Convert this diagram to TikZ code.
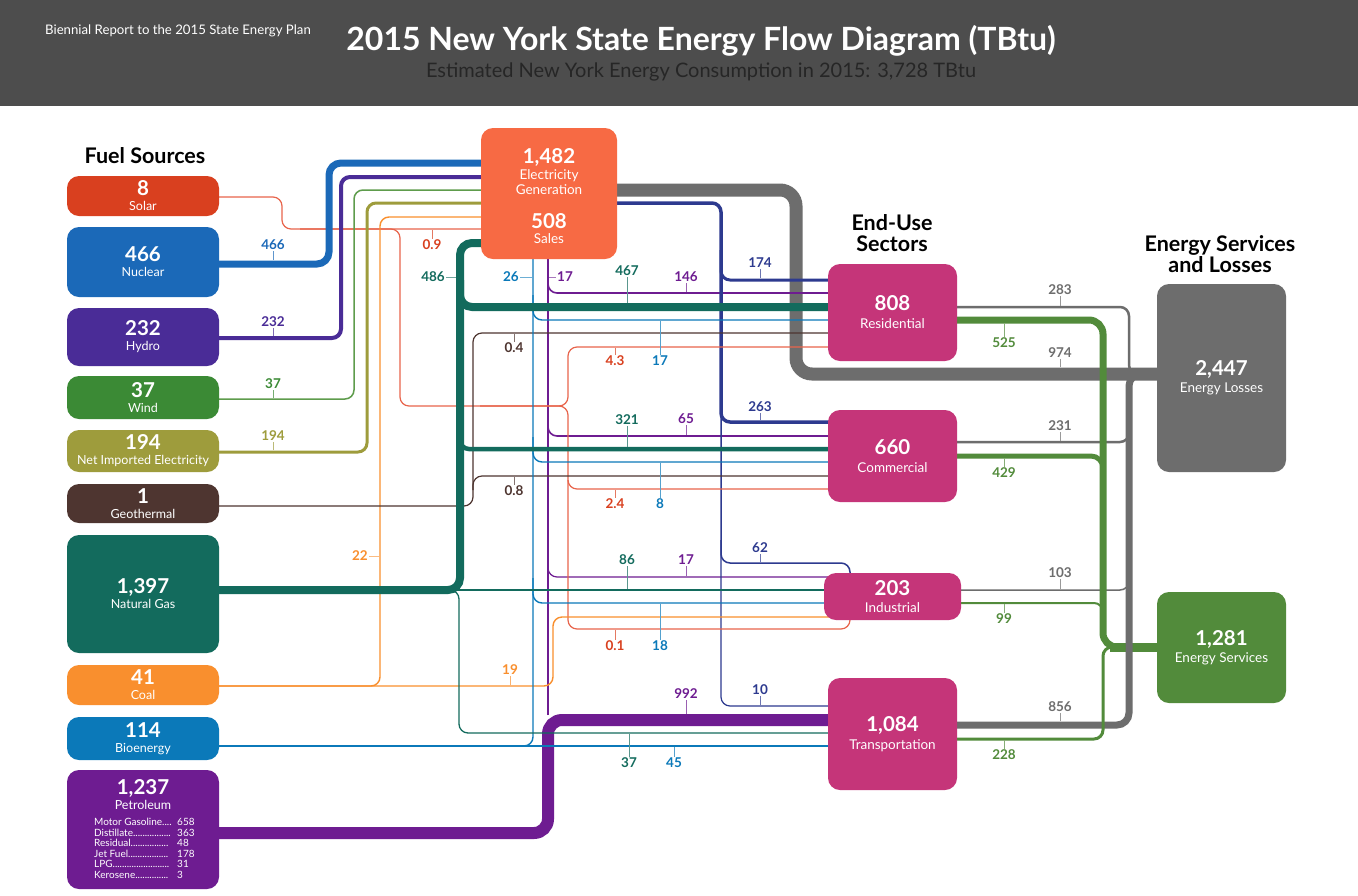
\documentclass[tikz,border=0pt]{standalone}
\usepackage{fontspec}
\setmainfont{Lato}
\usetikzlibrary{positioning,calc}

\definecolor{hdr}{HTML}{4D4D4D}
\definecolor{subt}{HTML}{262626}
\definecolor{csol}{HTML}{D9401F}
\definecolor{csolln}{HTML}{E8654C}
\definecolor{cnuc}{HTML}{1B69B8}
\definecolor{chyd}{HTML}{4A2C97}
\definecolor{cwnd}{HTML}{3B8A35}
\definecolor{cwndln}{HTML}{5E9C4C}
\definecolor{cimp}{HTML}{9E9C3C}
\definecolor{cgeo}{HTML}{4E3530}
\definecolor{cgas}{HTML}{136B5D}
\definecolor{ccoa}{HTML}{F98F2E}
\definecolor{cbio}{HTML}{0B79B9}
\definecolor{cpet}{HTML}{6E1C91}
\definecolor{celc}{HTML}{F76A44}
\definecolor{csal}{HTML}{2D3A8F}
\definecolor{csec}{HTML}{C53579}
\definecolor{clos}{HTML}{6D6D6D}
\definecolor{csrv}{HTML}{528B3B}

\newcommand\valfont{\fontsize{20.5}{21}\selectfont\bfseries}
\newcommand\labfont{\fontsize{12.5}{15}\selectfont}
\newcommand\seclab{\fontsize{13.5}{15}\selectfont}
\newcommand\numfont{\fontsize{13.5}{14}\selectfont\bfseries}

\begin{document}
\begin{tikzpicture}[x=1pt,y=-1pt,
  fbox/.style={rectangle,rounded corners=12pt,minimum width=152pt,text=white,align=center,inner sep=0pt,font=\labfont},
  sbox/.style={fbox,minimum width=129pt,font=\seclab},
  txt/.style={text=white,inner sep=0pt,font=\seclab,align=center},
  head/.style={font=\fontsize{21.5}{21}\selectfont\bfseries,align=center,inner sep=0pt},
  flow/.style={rounded corners=9pt},
  num/.style={font=\numfont,inner sep=1pt},
  ptab/.style={text=white,inner sep=0pt,font=\fontsize{10}{10}\selectfont,anchor=west}]
\useasboundingbox (0,0) rectangle (1358,895);
\fill[white] (0,0) rectangle (1358,895);
% header
\fill[hdr] (0,0) rectangle (1358,106);
\node[text=white,font=\fontsize{13.2}{14}\selectfont] (rep) at (178,31) {Biennial Report to the 2015 State Energy Plan};
\node[text=white,font=\fontsize{32}{34}\selectfont\bfseries] (ttl) at (701,41) {2015 New York State Energy Flow Diagram (TBtu)};
\node[text=subt,font=\fontsize{20}{22}\selectfont] (sbt) at (701,72) {Estimated New York Energy Consumption in 2015: 3,728 TBtu};
\node[head] (hfuel) at (145,156) {Fuel Sources};
\node[head] (hsec) at (892,233) {End-Use\\Sectors};
\node[head] (hout) at (1220,254) {Energy Services\\and Losses};

% boxes (placed first so the flows can refer to them, filled again on top)
\node[fbox,minimum height=40pt] (sol) at (143,196) {};
\node[fbox,minimum height=70pt] (nuc) at (143,262) {};
\node[fbox,minimum height=58pt] (hyd) at (143,337) {};
\node[fbox,minimum height=43pt] (wnd) at (143,397.5) {};
\node[fbox,minimum height=42pt] (imp) at (143,451) {};
\node[fbox,minimum height=39pt] (geo) at (143,503.5) {};
\node[fbox,minimum height=118pt] (gas) at (143,594) {};
\node[fbox,minimum height=40pt] (coa) at (143,685) {};
\node[fbox,minimum height=43pt] (bio) at (143,738.5) {};
\node[fbox,minimum height=119pt] (pet) at (143,829.5) {};
\node[fbox,minimum width=136pt,minimum height=131pt] (elc) at (549,193.5) {};
\node[sbox,minimum height=97pt] (res) at (892.5,312.5) {};
\node[sbox,minimum height=92pt] (com) at (892.5,456) {};
\node[sbox,minimum width=137pt,minimum height=47pt] (ind) at (892.5,596.5) {};
\node[sbox,minimum height=112pt] (tra) at (892.5,734) {};
\node[sbox,minimum height=188pt] (los) at (1221.5,378) {};
\node[sbox,minimum height=111pt] (srv) at (1221.5,647.5) {};

% losses and services
\draw[csrv,line width=9pt] (1110,647) -- (srv.center |- 0,647);
\draw[flow,clos,line width=13pt,rounded corners=16pt] (elc.center |- 0,190) -- (796,190) -- (796,374) -- (los.center |- 0,374);
\draw[flow,clos,line width=2.5pt] (res.center |- 0,307) -- (1129,307) -- (1129,374) -- (los.center |- 0,374);
\draw[flow,clos,line width=2.5pt] (com.center |- 0,442) -- (1129,442) -- (1129,374) -- (los.center |- 0,374);
\draw[flow,clos,line width=1.5pt] (ind.center |- 0,590) -- (1129,590) -- (1129,374) -- (los.center |- 0,374);
\draw[flow,clos,line width=7pt,rounded corners=12pt] (tra.center |- 0,725) -- (1129,725) -- (1129,374) -- (los.center |- 0,374);
\draw[flow,csrv,line width=7pt,rounded corners=14pt] (res.center |- 0,320) -- (1103,320) -- (1103,647) -- (1125,647);
\draw[flow,csrv,line width=5pt,rounded corners=12pt] (com.center |- 0,456) -- (1103,456) -- (1103,600);
\draw[flow,csrv,line width=2pt] (ind.center |- 0,603) -- (1103,603) -- (1103,630);
\draw[flow,csrv,line width=3pt] (tra.center |- 0,739) -- (1103,739) -- (1103,647) -- (1125,647);

% petroleum
\draw[flow,cpet,line width=12pt,rounded corners=14pt] (pet.center |- 0,833) -- (548,833) -- (548,720) -- (tra.center |- 0,720);
\draw[cpet,line width=1.6pt] (548,715) -- (elc.center -| 548,0);
\draw[flow,cpet,line width=1.6pt] (548,270) -- (548,293) -- (res.center |- 0,293);
\draw[flow,cpet,line width=1.6pt] (548,410) -- (548,436) -- (com.center |- 0,436);
\draw[flow,cpet,line width=1.2pt] (548,550) -- (548,577) -- (ind.center |- 0,577);

% electricity sales
\draw[flow,csal,line width=3.5pt] (elc.center |- 0,203) -- (721,203) -- (721,422) -- (com.center |- 0,422);
\draw[flow,csal,line width=3pt] (721,250) -- (721,280) -- (res.center |- 0,280);
\draw[flow,csal,line width=1.5pt] (721,400) -- (721,563) -- (850,563) -- (850,590);
\draw[flow,csal,line width=1.2pt] (721,540) -- (721,706) -- (tra.center |- 0,706);

% renewables and imports into generation
\draw[flow,csolln,line width=1.2pt] (sol.center |- 0,197) -- (282,197) -- (282,229) -- (elc.center |- 0,229);
\draw[flow,csolln,line width=1.2pt] (300,229) -- (400,229) -- (400,406) -- (568,406) -- (568,347) -- (res.center |- 0,347);
\draw[flow,csolln,line width=1.2pt] (480,406) -- (568,406) -- (568,489) -- (com.center |- 0,489);
\draw[flow,csolln,line width=1.2pt] (568,480) -- (568,629) -- (850,629) -- (850,605);
\draw[flow,cnuc,line width=7pt,rounded corners=12pt] (nuc.center |- 0,264) -- (329,264) -- (329,163) -- (elc.center |- 0,163);
\draw[flow,chyd,line width=4pt] (hyd.center |- 0,338) -- (341,338) -- (341,177) -- (elc.center |- 0,177);
\draw[flow,cwndln,line width=1.5pt] (wnd.center |- 0,399) -- (354,399) -- (354,190) -- (elc.center |- 0,190);
\draw[flow,cimp,line width=3pt] (imp.center |- 0,452) -- (367,452) -- (367,203) -- (elc.center |- 0,203);
\draw[flow,ccoa,line width=1.4pt] (coa.center |- 0,686) -- (380,686) -- (380,217) -- (elc.center |- 0,217);
\draw[flow,ccoa,line width=1.4pt] (coa.center |- 0,686) -- (553,686) -- (553,617) -- (ind.center |- 0,617);
\draw[flow,cgeo,line width=1.2pt] (geo.center |- 0,506) -- (473,506) -- (473,476) -- (com.center |- 0,476);
\draw[flow,cgeo,line width=1.2pt] (473,490) -- (473,333) -- (res.center |- 0,333);

% bioenergy
\draw[cbio,line width=1.5pt] (bio.center |- 0,746) -- (tra.center |- 0,746);
\draw[flow,cbio,line width=1.4pt] (500,746) -- (533,746) -- (elc.center -| 533,0);
\foreach \yy/\sec in {320/res,462/com,603/ind}
  \draw[flow,cbio,line width=1.4pt] (533,\yy-25) -- (533,\yy) -- (\sec.center |- 0,\yy);

% natural gas
\draw[cgas,line width=1.5pt] (gas.center |- 0,590) -- (ind.center |- 0,590);
\draw[flow,cgas,line width=1.3pt] (440,590) -- (459,590) -- (459,733) -- (tra.center |- 0,733);
\draw[flow,cgas,line width=8pt,rounded corners=12pt] (gas.center |- 0,590) -- (460,590) -- (460,243) -- (elc.center |- 0,243);
\draw[flow,cgas,line width=8pt,rounded corners=12pt] (460,280) -- (460,307) -- (res.center |- 0,307);
\draw[flow,cgas,line width=4.5pt] (460,420) -- (460,449) -- (com.center |- 0,449);

% boxes on top
\node[fbox,fill=csol,minimum height=40pt] at (sol) {{\valfont 8}\\Solar};
\node[fbox,fill=cnuc,minimum height=70pt] at (nuc) {{\valfont 466}\\Nuclear};
\node[fbox,fill=chyd,minimum height=58pt] at (hyd) {{\valfont 232}\\Hydro};
\node[fbox,fill=cwnd,minimum height=43pt] at (wnd) {{\valfont 37}\\Wind};
\node[fbox,fill=cimp,minimum height=42pt] at (imp) {{\valfont 194}\\Net Imported Electricity};
\node[fbox,fill=cgeo,minimum height=39pt] at (geo) {{\valfont 1}\\Geothermal};
\node[fbox,fill=cgas,minimum height=118pt] at (gas) {{\valfont 1,397}\\Natural Gas};
\node[fbox,fill=ccoa,minimum height=40pt] at (coa) {{\valfont 41}\\Coal};
\node[fbox,fill=cbio,minimum height=43pt] at (bio) {{\valfont 114}\\Bioenergy};
\node[fbox,fill=cpet,minimum height=119pt] at (pet) {};
\node[txt,font=\labfont] (petv) at (143,795) {{\valfont 1,237}\\Petroleum};
\node[ptab] (pn1) at (94,822) {Motor Gasoline....};
\node[ptab] (pn2) at (94,832.5) {Distillate................};
\node[ptab] (pn3) at (94,843) {Residual................};
\node[ptab] (pn4) at (94,853.5) {Jet Fuel.................};
\node[ptab] (pn5) at (94,864) {LPG........................};
\node[ptab] (pn6) at (94,874.5) {Kerosene..............};
\foreach \i/\vl in {0/658,1/363,2/48,3/178,4/31,5/3}
  \node[ptab] (pv) at (177,822+10.5*\i) {\vl};
\node[fbox,fill=celc,minimum width=136pt,minimum height=131pt] at (elc) {};
\node[txt] (elct) at (549,172) {{\valfont 1,482}\\[1pt]Electricity\\Generation};
\node[txt] (salt) at (549,229) {{\valfont 508}\\Sales};
\node[sbox,fill=csec,minimum height=97pt] at (res) {{\valfont 808}\\[3pt]Residential};
\node[sbox,fill=csec,minimum height=92pt] at (com) {{\valfont 660}\\[3pt]Commercial};
\node[sbox,fill=csec,minimum width=137pt,minimum height=47pt] at (ind) {{\valfont 203}\\[2pt]Industrial};
\node[sbox,fill=csec,minimum height=112pt] at (tra) {{\valfont 1,084}\\[3pt]Transportation};
\node[sbox,fill=clos,minimum height=188pt] at (los) {{\valfont 2,447}\\[2pt]Energy Losses};
\node[sbox,fill=csrv,minimum height=111pt] at (srv) {{\valfont 1,281}\\[2pt]Energy Services};

% flow values
\foreach \x/\yl/\yt/\t/\c in {273/260/245/466/cnuc,273/336/322/232/chyd,273/398/384/37/cwnd,273/450/436/194/cimp,
    760/278/263/174/csal,627/303/271/467/cgas,686/292/277/146/cpet,760/420/407/263/csal,627/447/420/321/cgas,
    686/435/419/65/cpet,760/562/548/62/csal,627/589/560/86/cgas,686/576/560/17/cpet,510/685/670/19/ccoa,
    760/705/690/10/csal,686/714/694/992/cpet,1060/306/290/283/clos,1060/367/353/974/clos,1060/441/426/231/clos,
    1060/589/573/103/clos,1060/721/707/856/clos}{
  \node[num,text=\c] (lab) at (\x,\yt) {\t};
  \draw[\c!70,line width=1pt] (\x,\yl) -- (lab.south);
}
\foreach \x/\yl/\yt/\t/\c in {432/230/245/0.9/csol,514/334/348/0.4/cgeo,615/348/361/4.3/csol,660/321/361/17/cbio,
    514/477/491/0.8/cgeo,615/490/504/2.4/csol,660/463/504/8/cbio,615/630/646/0.1/csol,660/604/646/18/cbio,
    629/734/763/37/cgas,674/747/763/45/cbio,1004/323/343/525/csrv,1004/458/473/429/csrv,1004/604/619/99/csrv,
    1004/740/755/228/csrv}{
  \node[num,text=\c] (lab) at (\x,\yt) {\t};
  \draw[\c!70,line width=1pt] (\x,\yl) -- (lab.north);
}
\node[num,text=cgas,anchor=east] (s486) at (446,277) {486};
\draw[cgas!60,line width=1pt] (s486.east) -- (456,277);
\node[num,text=cbio,anchor=east] (s26) at (520,277) {26};
\draw[cbio!60,line width=1pt] (s26.east) -- (532,277);
\node[num,text=ccoa,anchor=east] (s22) at (369,556) {22};
\draw[ccoa!60,line width=1pt] (s22.east) -- (379,556);
\node[num,text=cpet,anchor=west] (s17) at (556,277) {17};
\draw[cpet!60,line width=1pt] (549,277) -- (s17.west);
\end{tikzpicture}
\end{document}
